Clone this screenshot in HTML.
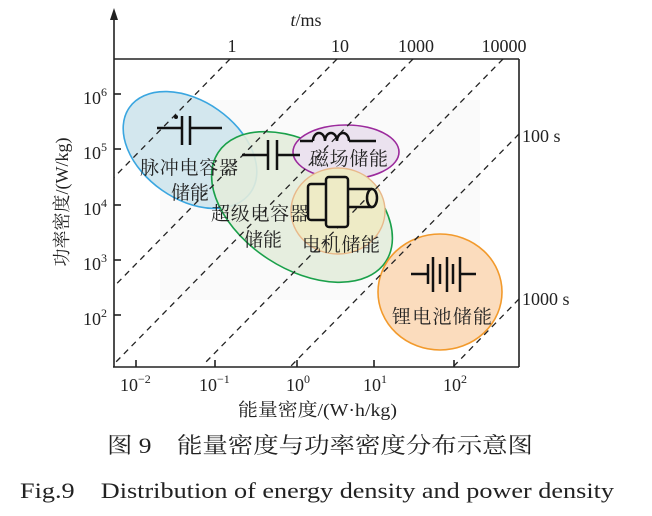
<!DOCTYPE html>
<html><head><meta charset="utf-8"><style>
html,body{margin:0;padding:0;background:#fff;}
svg{display:block;}
text{font-family:"Liberation Serif","Noto Serif CJK SC",serif;fill:#222;}
.cj{font-family:"Liberation Serif","Noto Serif CJK SC",serif;}
</style></head><body>
<svg width="652" height="516" viewBox="0 0 652 516" xmlns="http://www.w3.org/2000/svg">
<defs><clipPath id="c"><rect x="114" y="59" width="405" height="308"/></clipPath></defs>
<rect x="160" y="100" width="320" height="200" fill="#fafafa"/>
<ellipse cx="190" cy="150" rx="74" ry="49" transform="rotate(35 190 150)" fill="#d3e7ee" stroke="#3aa6e0" stroke-width="1.6"/>
<ellipse cx="302" cy="207" rx="100" ry="62" transform="rotate(33 302 207)" fill="#e3ecdc" fill-opacity="0.9" stroke="#1aa04a" stroke-width="1.6"/>
<ellipse cx="346" cy="152" rx="53" ry="27" fill="#ebe2ef" stroke="#9b2a9c" stroke-width="1.6"/>
<ellipse cx="338" cy="211" rx="47" ry="43" fill="#eeebc6" stroke="#e8b88a" stroke-width="1.4"/>
<ellipse cx="440" cy="292" rx="62" ry="58" fill="#fbdcbd" stroke="#f29a2c" stroke-width="1.6"/>
<g clip-path="url(#c)" stroke="#222" stroke-width="1.3" stroke-dasharray="6,5" fill="none">
<line x1="230" y1="59" x2="-70" y2="365"/>
<line x1="337" y1="59" x2="37" y2="365"/>
<line x1="413" y1="59" x2="113" y2="365"/>
<line x1="503" y1="59" x2="203" y2="365"/>
<line x1="519" y1="134" x2="289" y2="368"/>
<line x1="519" y1="299" x2="452" y2="368"/>
</g>
<g stroke="#222" stroke-width="1.6" fill="none">
<line x1="114" y1="14" x2="114" y2="367"/>
<line x1="113" y1="367" x2="519" y2="367"/>
<line x1="114" y1="59" x2="519" y2="59"/>
<line x1="519" y1="59" x2="519" y2="367"/>
<line x1="114" y1="94" x2="121" y2="94"/><line x1="114" y1="149" x2="121" y2="149"/><line x1="114" y1="205" x2="121" y2="205"/><line x1="114" y1="260" x2="121" y2="260"/><line x1="114" y1="315" x2="121" y2="315"/>
<line x1="136" y1="367" x2="136" y2="360"/><line x1="215" y1="367" x2="215" y2="360"/><line x1="297" y1="367" x2="297" y2="360"/><line x1="374" y1="367" x2="374" y2="360"/><line x1="454" y1="367" x2="454" y2="360"/>
</g>
<polygon points="114,8 110,20 118,20" fill="#222"/>
<g stroke="#111" stroke-width="2.5" fill="none">
<path d="M157 128H182M182 116V145M190 116V145M190 128H222"/>
<path d="M242 155H268M268 140V170M277 140V170M277 155H300"/>
<path d="M300 141H313M313 141a6 8 0 0 1 12 0a6 8 0 0 1 12 0a6 8 0 0 1 12 0M349 141H376"/>
<path d="M411 274H428M428 264V284M433 257V292M440 264V284M447 257V292M453 264V284M460 257V292M460 274H476"/>
<rect x="308" y="184" width="20" height="36" rx="3" fill="#eeebc6"/>
<rect x="326" y="177" width="22" height="50" rx="3" fill="#eeebc6"/>
<path d="M348 189H372M348 207H372" />
<ellipse cx="372" cy="198" rx="5" ry="9" fill="#eeebc6"/>
</g>
<circle cx="176" cy="117" r="2" fill="#111"/>
<g class="cj" font-size="19" fill="#222">
<text x="140" y="174" textLength="98">脉冲电容器</text>
<text x="171" y="199">储能</text>
<text x="211" y="220" textLength="98">超级电容器</text>
<text x="244" y="246">储能</text>
<text x="310" y="165" textLength="78">磁场储能</text>
<text x="302" y="251" textLength="78">电机储能</text>
<text x="392" y="323" textLength="100">锂电池储能</text>
</g>
<g font-size="18">
<text x="306" y="26" text-anchor="middle"><tspan font-style="italic">t</tspan>/ms</text>
<text x="232" y="52" text-anchor="middle">1</text>
<text x="340" y="52" text-anchor="middle">10</text>
<text x="416" y="52" text-anchor="middle">1000</text>
<text x="504" y="52" text-anchor="middle">10000</text>
<text x="522" y="142">100 s</text>
<text x="522" y="305">1000 s</text>
<text x="107" y="104" text-anchor="end">10<tspan font-size="12" dy="-8">6</tspan></text>
<text x="107" y="159" text-anchor="end">10<tspan font-size="12" dy="-8">5</tspan></text>
<text x="107" y="215" text-anchor="end">10<tspan font-size="12" dy="-8">4</tspan></text>
<text x="107" y="270" text-anchor="end">10<tspan font-size="12" dy="-8">3</tspan></text>
<text x="107" y="325" text-anchor="end">10<tspan font-size="12" dy="-8">2</tspan></text>
<text x="120" y="391">10<tspan font-size="12" dy="-8">−2</tspan></text>
<text x="199" y="391">10<tspan font-size="12" dy="-8">−1</tspan></text>
<text x="286" y="391">10<tspan font-size="12" dy="-8">0</tspan></text>
<text x="363" y="391">10<tspan font-size="12" dy="-8">1</tspan></text>
<text x="443" y="391">10<tspan font-size="12" dy="-8">2</tspan></text>
</g>
<text x="238" y="416" font-size="18" textLength="159" lengthAdjust="spacingAndGlyphs"><tspan class="cj">能量密度</tspan>/(W·h/kg)</text>
<text transform="translate(68,202) rotate(-90)" font-size="18" text-anchor="middle"><tspan class="cj">功率密度</tspan>/(W/kg)</text>
<text x="107" y="453" font-size="22" class="cj" textLength="426" lengthAdjust="spacingAndGlyphs">图 9　能量密度与功率密度分布示意图</text>
<text x="20" y="498" font-size="22" textLength="594" lengthAdjust="spacingAndGlyphs">Fig.9　Distribution of energy density and power density</text>
</svg>
</body></html>
